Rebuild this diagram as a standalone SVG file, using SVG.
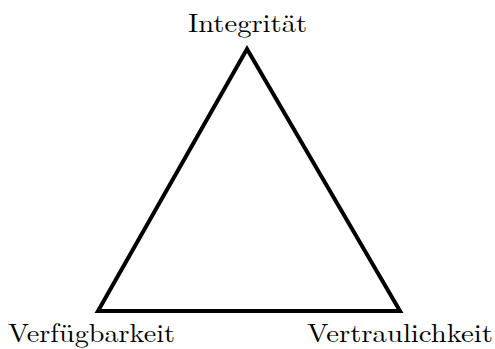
<svg xmlns="http://www.w3.org/2000/svg" width="495" height="349" viewBox="0 0 495 349">
<style>
.lbl{font-family:"Latin Modern Roman","Liberation Serif","DejaVu Serif",serif;font-size:26px;fill:#000;text-anchor:middle}
.edge{fill:none;stroke:#000;stroke-width:4;stroke-linejoin:miter;stroke-miterlimit:10}
</style>
<rect width="495" height="349" fill="#fff"/>
<g id="connectors">
<polygon class="edge" points="247,49 98,311 400,311"/>
</g>
<g id="integritaet"><text class="lbl" x="247.5" y="31.5" textLength="119" lengthAdjust="spacingAndGlyphs">Integrität</text></g>
<g id="verfuegbarkeit"><text class="lbl" x="91.5" y="341.5" textLength="167" lengthAdjust="spacingAndGlyphs">Verfügbarkeit</text></g>
<g id="vertraulichkeit"><text class="lbl" x="400" y="341.5" textLength="186" lengthAdjust="spacingAndGlyphs">Vertraulichkeit</text></g>
</svg>
